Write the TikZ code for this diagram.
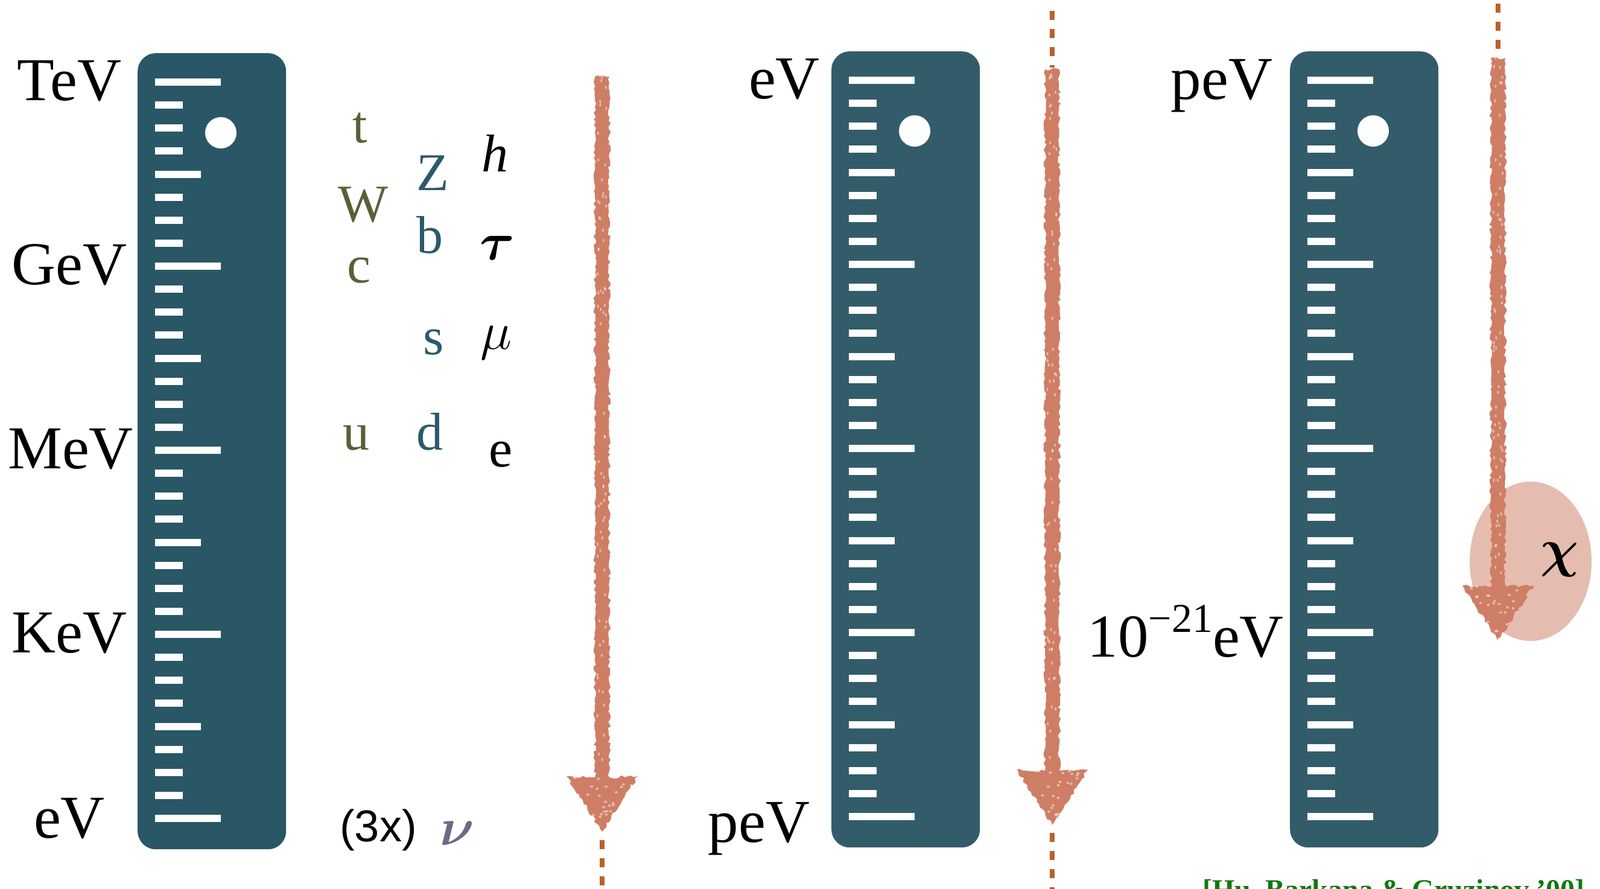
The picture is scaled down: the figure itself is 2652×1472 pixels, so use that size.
\documentclass[tikz,border=0pt]{standalone}
\usepackage{graphicx}
\usepackage{amsmath}
\usepackage{fontspec}
\setmainfont{Liberation Serif}
\newfontfamily\labsans{Liberation Sans}
\usetikzlibrary{decorations.pathmorphing,shapes.geometric,calc}
\definecolor{rulerA}{RGB}{41,87,101}
\definecolor{rulerB}{RGB}{51,92,106}
\definecolor{olivec}{RGB}{92,94,56}
\definecolor{tealc}{RGB}{43,90,106}
\definecolor{nuc}{RGB}{106,106,136}
\definecolor{brush}{RGB}{207,126,102}
\definecolor{dashc}{RGB}{184,98,44}
\definecolor{blobc}{RGB}{229,189,176}
\definecolor{citec}{RGB}{14,122,14}
\newcommand\bigmath[1]{\scalebox{3.54}{\fontsize{24.88}{24.88}\selectfont$#1$}}
\tikzset{
  rulerbox/.style={rectangle, rounded corners=30pt, minimum width=246pt, minimum height=1319pt, inner sep=0pt, anchor=north west},
  scalelab/.style={anchor=base, inner sep=0pt, font=\fontsize{101}{101}\selectfont},
  part/.style={anchor=base, inner sep=0pt, font=\fontsize{88}{88}\selectfont},
  quarkA/.style={part, text=olivec},
  quarkB/.style={part, text=tealc},
  lepton/.style={part, text=black},
  dashline/.style={draw=dashc, line width=8pt, dash pattern=on 15pt off 15pt},
  brushfill/.style={fill=brush, decorate, decoration={random steps, segment length=5pt, amplitude=2.5pt}},
  fleck/.style={fill=white, opacity=0.45},
  blob/.style={fill=blobc, ellipse, minimum width=202pt, minimum height=264pt, inner sep=0pt},
}
% name, left x, top y, colour
\newcommand\myruler[4]{%
  \node[rulerbox, fill=#4] (#1) at (#2,#3) {};
  \foreach \i in {0,...,32}{%
    \pgfmathsetmacro\ty{#3+48+\i*38.125}%
    \pgfmathtruncatemacro\mA{mod(\i,8)}%
    \pgfmathtruncatemacro\mB{mod(\i,4)}%
    \ifnum\mA=0 \def\tw{109}\else\ifnum\mB=0 \def\tw{76}\else\def\tw{46}\fi\fi
    \fill[white] (#2+29,\ty-6) rectangle ++(\tw,12);
  }
  \fill[white] (#2+138,#3+132) circle[radius=26pt];
}
% start coordinate, tip coordinate, seed
\newcommand\brusharrow[3]{%
  \path[brushfill] ([xshift=-12pt]#1) -- ([xshift=-12pt,yshift=90pt]#2)
    -- ([xshift=-59pt,yshift=92pt]#2) -- (#2) -- ([xshift=59pt,yshift=92pt]#2)
    -- ([xshift=12pt,yshift=90pt]#2) -- ([xshift=12pt]#1) -- cycle;
  \pgfmathsetseed{#3}%
  \foreach \k in {1,...,70}{%
    \pgfmathsetmacro\fy{rnd}%
    \pgfmathsetmacro\fx{rand*8}%
    \fill[fleck] ($(#1)!\fy!([yshift=90pt]#2)+(\fx pt,0)$) ellipse[x radius=1.6pt, y radius=2.8pt];
  }
  \foreach \k in {1,...,22}{%
    \pgfmathsetmacro\ft{0.85*rnd}%
    \pgfmathsetmacro\hx{rand*48*(1-\ft)}%
    \fill[fleck] ($([yshift=90pt]#2)!\ft!(#2)+(\hx pt,0)$) ellipse[x radius=2.5pt, y radius=2pt];
  }
}
\begin{document}
\begin{tikzpicture}[x=1pt,y=-1pt]
\useasboundingbox (0,0) rectangle (2652,1472);
\fill[white] (0,0) rectangle (2652,1472);
\clip (0,0) rectangle (2652,1472);

% rulers
\myruler{rulerone}{228}{88}{rulerA}
\myruler{rulertwo}{1378}{85}{rulerB}
\myruler{rulerthree}{2138}{85}{rulerB}

% scale labels, ruler 1
\node[scalelab] (tev) at (115,166) {TeV};
\node[scalelab] (gev) at (115,471) {GeV};
\node[scalelab] (mev) at (117,776) {MeV};
\node[scalelab] (kev) at (115,1081) {KeV};
\node[scalelab] (ev) at (115,1388) {eV};

% ruler 2
\node[scalelab] (evtwo) at (1300,163) {eV};
\node[scalelab] (pevtwo) at (1258,1395) {peV};

% ruler 3
\node[scalelab] (pevthree) at (2025,164) {peV};
\node[scalelab, anchor=base east] (tiny) at (2128,1088) {10\raisebox{0.4em}{\fontsize{68}{68}\selectfont −21}eV};

% particles
\node[quarkA] (pt) at (597,236) {t};
\node[quarkA] (pW) at (602,367) {W};
\node[quarkA] (pc) at (595,468) {c};
\node[quarkA] (pu) at (590,745) {u};
\node[quarkB] (pZ) at (717,315) {Z};
\node[quarkB] (pb) at (712,419) {b};
\node[quarkB] (ps) at (719,587) {s};
\node[quarkB] (pd) at (712,745) {d};
\node[lepton] (ph) at (820,284) {\textit{h}};
\node[lepton] (ptau) at (824,430) {\bigmath{\boldsymbol{\tau}}};
\node[lepton] (pmu) at (822,578) {\bigmath{\mu}};
\node[lepton] (pe) at (830,773) {e};
\node[anchor=base, inner sep=0pt, font=\labsans\fontsize{74}{74}\selectfont] (three) at (627,1394) {(3x)};
\node[part, text=nuc] (pnu) at (758,1400) {\bigmath{\boldsymbol{\nu}}};

% chi blob
\node[blob] (chiblob) at (2537,930) {};

% dashed continuation lines
\coordinate (donea) at (998,1392);
\coordinate (doneb) at (998,1490);
\coordinate (dtwoa) at (1744,18);
\coordinate (dtwob) at (1744,112);
\coordinate (dtwoc) at (1744,1380);
\coordinate (dtwod) at (1744,1490);
\coordinate (dthreea) at (2483,6);
\coordinate (dthreeb) at (2483,92);
\draw[dashline] (donea) -- (doneb);
\draw[dashline] (dtwoa) -- (dtwob);
\draw[dashline] (dtwoc) -- (dtwod);
\draw[dashline] (dthreea) -- (dthreeb);

% brush arrows
\coordinate (aones) at (998,127);
\coordinate (aonee) at (998,1378);
\coordinate (atwos) at (1744,115);
\coordinate (atwoe) at (1744,1367);
\coordinate (athrees) at (2483,96);
\coordinate (athreee) at (2483,1062);
\brusharrow{aones}{aonee}{11}
\brusharrow{atwos}{atwoe}{23}
\brusharrow{athrees}{athreee}{37}

\node[part, anchor=center] (chi) at (2585,927) {\bigmath{\boldsymbol{\chi}}};

% citation (cut by the bottom edge)
\node[anchor=base, inner sep=0pt, text=citec, font=\bfseries\fontsize{48}{48}\selectfont] (cite) at (2310,1490) {[Hu, Barkana \& Gruzinov ’00]};
\end{tikzpicture}
\end{document}
